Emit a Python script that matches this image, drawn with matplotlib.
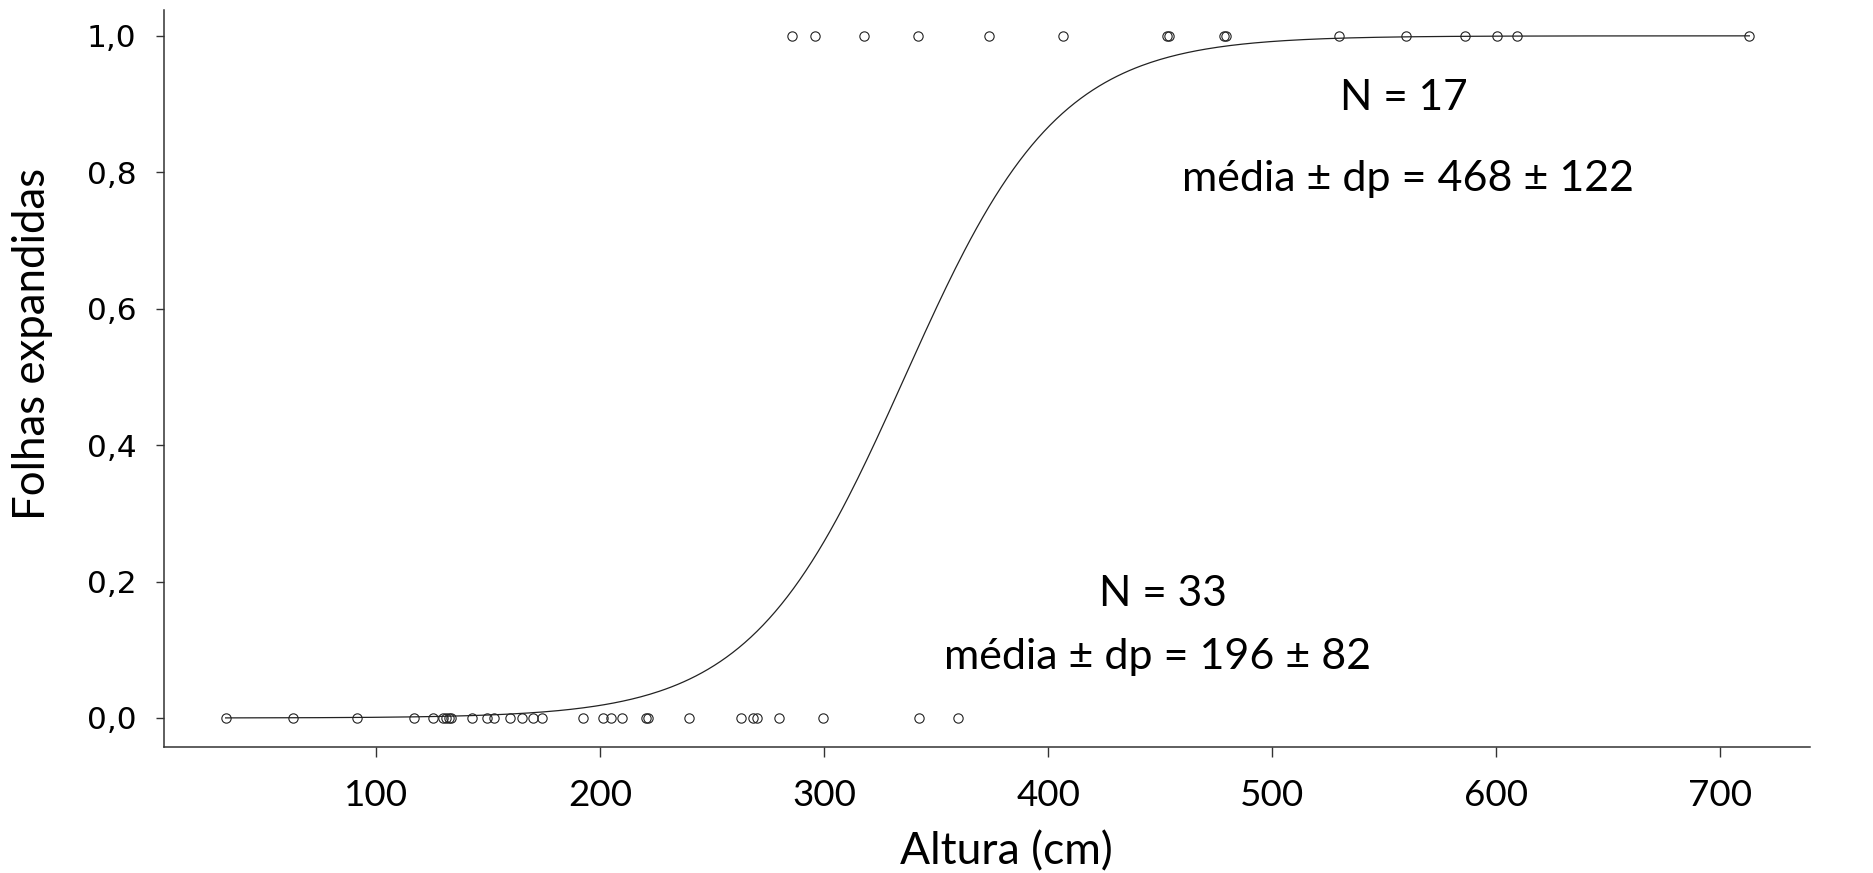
import numpy as np
import matplotlib.pyplot as plt

# altura (cm) das plantas sem folhas expandidas (0) e com folhas expandidas (1)
altura_0 = [32.8, 62.9, 91.5, 116.8, 125.2, 129.9, 131.1, 132.3, 133.4, 142.6,
            149.3, 152.7, 159.7, 164.9, 169.8, 173.8, 192.4, 201.3, 204.6, 209.6,
            220.4, 221.4, 239.6, 262.8, 268.0, 269.8, 279.8, 299.6, 342.4, 359.8]
altura_1 = [285.8, 295.7, 317.9, 342.0, 373.7, 406.7, 452.9, 453.9, 478.6, 479.5,
            529.9, 559.7, 586.0, 600.2, 609.1, 712.9]

# coeficientes da regressao logistica
b0 = -9.81
b1 = 0.0292

xticks = [100, 200, 300, 400, 500, 600, 700]
yticks = [0.0, 0.2, 0.4, 0.6, 0.8, 1.0]
ylabels = ['0,0', '0,2', '0,4', '0,6', '0,8', '1,0']

fnt = 'Lato'

fig = plt.figure(figsize=(18.73, 8.73), dpi=100)
ax = fig.add_axes([0.0873, 0.1449, 0.9664 - 0.0873, 0.9891 - 0.1449])

x_all = np.array(altura_0 + altura_1)
x = np.linspace(x_all.min(), x_all.max(), 500)
ax.plot(x, 1 / (1 + np.exp(-(b0 + b1 * x))), color='#222222', lw=0.9)

ax.plot(altura_0, np.zeros(len(altura_0)), 'o', ms=6.7, mfc='none', mec='#222222', mew=0.8)
ax.plot(altura_1, np.ones(len(altura_1)), 'o', ms=6.7, mfc='none', mec='#222222', mew=0.8)

ax.set_xlim(5.07, 740)
ax.set_ylim(-0.0418, 1.0386)

for s in ['top', 'right']:
    ax.spines[s].set_visible(False)
for s in ['left', 'bottom']:
    ax.spines[s].set_linewidth(1.1)
    ax.spines[s].set_color('#333333')

ax.set_xticks(xticks)
ax.set_xticklabels([str(t) for t in xticks], family=fnt, fontsize=26.5)
ax.set_yticks(yticks)
ax.set_yticklabels(ylabels, family='DejaVu Sans', fontsize=22.5)
ax.tick_params(axis='x', length=7.5, width=1, color='#333333', pad=16)
ax.tick_params(axis='y', length=5.5, width=1, color='#333333', pad=14)

ax.set_xlabel('Altura (cm)', family=fnt, fontsize=32, va='center')
ax.xaxis.set_label_coords(0.512, -0.143)
fig.text(33 / 1873, 1 - 344 / 873, 'Folhas expandidas', family=fnt, fontsize=31.5,
         rotation=90, ha='center', va='center')

ax.text(558.8, 0.909, 'N = 17', family=fnt, fontsize=30.5, ha='center', va='center')
ax.text(560.6, 0.790, 'média ± dp = 468 ± 122', family=fnt, fontsize=31, ha='center', va='center')
ax.text(451.0, 0.182, 'N = 33', family=fnt, fontsize=30.5, ha='center', va='center')
ax.text(448.7, 0.0894, 'média ± dp = 196 ± 82', family=fnt, fontsize=31, ha='center', va='center')

fig.savefig('out.png', dpi=100)
